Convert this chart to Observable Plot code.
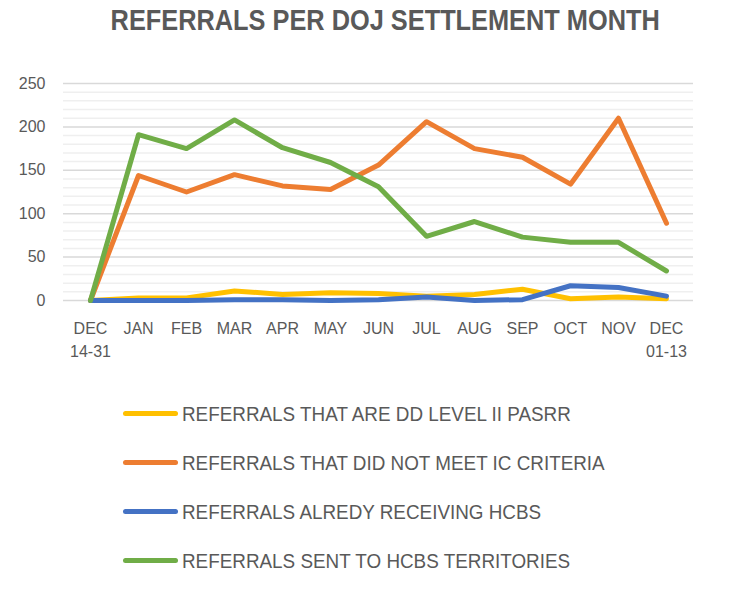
<!DOCTYPE html>
<html>
<head>
<meta charset="utf-8">
<script src="https://cdn.jsdelivr.net/npm/d3@7"></script>
<script src="https://cdn.jsdelivr.net/npm/@observablehq/plot@0.6"></script>
<style>
  html, body { margin: 0; padding: 0; background: #fff; }
  #wrap { position: relative; width: 740px; height: 597px; font-family: "Liberation Sans", Arial, sans-serif; color: #595959; overflow: hidden; }
  #title { position: absolute; top: 4px; left: 0; width: 770px; text-align: center; }
  #title span { display: inline-block; font-weight: bold; font-size: 29px; transform: scaleX(0.874); transform-origin: center; white-space: nowrap; }
  #chart { position: absolute; top: 50px; left: 0; }
  #legend { position: absolute; left: 123px; top: 401px; }
  .item { height: 49px; display: flex; align-items: flex-start; }
  .sw { width: 55px; height: 5px; border-radius: 3px; margin-top: 10px; margin-right: 4px; flex: none; }
  .lab { font-size: 20.5px; line-height: 26px; transform: scaleX(0.92); transform-origin: left center; white-space: nowrap; }
</style>
</head>
<body>
<div id="wrap">
  <div id="title"><span>REFERRALS PER DOJ SETTLEMENT MONTH</span></div>
  <div id="chart"></div>
  <div id="legend"></div>
</div>
<script>
const months = ["DEC\n14-31","JAN","FEB","MAR","APR","MAY","JUN","JUL","AUG","SEP","OCT","NOV","DEC\n01-13"];
const seriesNames = [
  "REFERRALS THAT ARE DD LEVEL II PASRR",
  "REFERRALS THAT DID NOT MEET IC CRITERIA",
  "REFERRALS ALREDY RECEIVING HCBS",
  "REFERRALS SENT TO HCBS TERRITORIES"
];
const seriesColors = ["#FFC000", "#ED7D31", "#4472C4", "#70AD47"];
const ddLevelII   = [0, 3, 3, 11, 7, 9, 8, 5, 7, 13, 2, 4, 2];
const notMeetIC   = [0, 144, 125, 145, 132, 128, 156, 206, 175, 165, 134, 210, 89];
const alreadyHCBS = [0, 0, 0, 1, 1, 0, 1, 4, 0, 1, 17, 15, 5];
const sentHCBS    = [0, 191, 175, 208, 176, 159, 131, 74, 91, 73, 67, 67, 34];
const yTicks = [0, 50, 100, 150, 200, 250];
const yMinor = d3.range(0, 251, 10).filter(v => v % 50 !== 0);

const seriesValues = [ddLevelII, notMeetIC, alreadyHCBS, sentHCBS];
const data = seriesValues.flatMap((vals, i) =>
  vals.map((v, j) => ({series: seriesNames[i], month: months[j], value: v})));

const chart = Plot.plot({
  width: 740,
  height: 320,
  marginLeft: 63,
  marginRight: 47,
  marginTop: 33,
  marginBottom: 70,
  style: {fontFamily: "'Liberation Sans', Arial, sans-serif", fontSize: "16px", color: "#595959", background: "transparent"},
  x: {type: "point", domain: months, padding: 0.5},
  y: {domain: [0, 250]},
  color: {domain: seriesNames, range: seriesColors},
  marks: [
    Plot.ruleY(yMinor, {stroke: "#efefef", strokeWidth: 1.5}),
    Plot.ruleY(yTicks, {stroke: "#d9d9d9", strokeWidth: 1.5}),
    Plot.axisY({ticks: yTicks, tickSize: 0, tickPadding: 18, label: null, fill: "#595959", fontSize: 16}),
    Plot.axisX({tickSize: 0, tickPadding: 17, label: null, lineHeight: 1.45, fill: "#595959", fontSize: 16}),
    Plot.line(data, {x: "month", y: "value", z: "series", stroke: "series", strokeWidth: 5, strokeLinejoin: "round", strokeLinecap: "round"})
  ]
});
document.getElementById("chart").appendChild(chart);

const legend = document.getElementById("legend");
seriesNames.forEach((name, i) => {
  const item = document.createElement("div");
  item.className = "item";
  const sw = document.createElement("div");
  sw.className = "sw";
  sw.style.background = seriesColors[i];
  const lab = document.createElement("div");
  lab.className = "lab";
  lab.textContent = name;
  item.appendChild(sw);
  item.appendChild(lab);
  legend.appendChild(item);
});
</script>
</body>
</html>
